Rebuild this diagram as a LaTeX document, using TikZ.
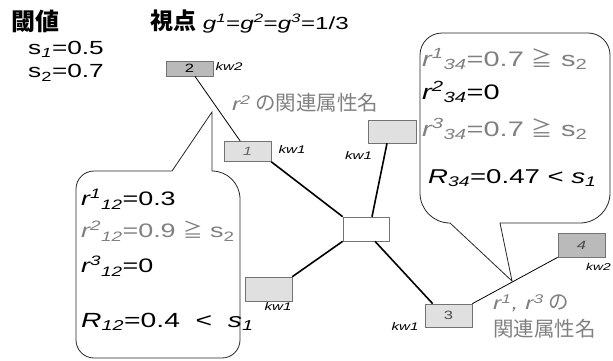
\documentclass[tikz,border=0pt]{standalone}
\usepackage{fontspec}
\usetikzlibrary{calc}
\setmainfont{Liberation Sans}[FakeStretch=1.38]
\newfontfamily\jp{Noto Sans CJK JP}
\definecolor{gtxt}{gray}{0.5}
\newcommand\upi[1]{\textsuperscript{\itshape #1}}
\newcommand\dni[1]{\textsubscript{\itshape #1}}
\newcommand\dnr[1]{\textsubscript{#1}}
\newcommand\geqj{{\jp ≧}}
\begin{document}
\begin{tikzpicture}[x=1pt,y=1pt,
  kwbox/.style={draw=black!55, line width=0.6pt, minimum width=47pt, inner sep=0pt, font=\fontsize{12}{13}\selectfont},
  darkbox/.style={kwbox, fill=black!27},
  lightbox/.style={kwbox, fill=black!12},
  kwlab/.style={font=\fontsize{11}{12}\selectfont\itshape, inner sep=0pt},
  txt/.style={anchor=west, inner sep=0pt, font=\fontsize{19}{21}\selectfont},
  ctxt/.style={anchor=west, inner sep=0pt, font=\fontsize{19.5}{22}\selectfont},
  cctxt/.style={anchor=west, inner sep=0pt, font=\fontsize{21}{23}\selectfont},
  rtxt/.style={anchor=west, inner sep=0pt, font=\fontsize{20.5}{22}\selectfont},
  jtxt/.style={anchor=west, inner sep=0pt, font=\jp\fontsize{20.5}{23}\selectfont, text=gtxt},
  thickedge/.style={line width=1.6pt},
  thinedge/.style={line width=0.8pt},
  callout/.style={line width=0.8pt, draw=black!85}
]
\useasboundingbox (0,0) rectangle (613,360);

% nodes
\node[darkbox, minimum height=15pt] (n2) at (189.5,291.5) {2};
\node[lightbox, minimum height=20pt, text=black!60] (n1) at (247.5,208.5) {\itshape 1};
\node[lightbox, minimum height=23pt, minimum width=48pt] (n5) at (392,228.5) {};
\node[kwbox, fill=white, minimum height=24pt, minimum width=46pt] (c) at (366,131) {};
\node[lightbox, minimum height=24pt] (n6) at (268.5,71) {};
\node[lightbox, minimum height=23pt, text=black!70] (n3) at (448.5,44.5) {3};
\node[darkbox, minimum height=24pt, text=black!70] (n4) at (581.5,115) {\itshape 4};

% kw labels
\node[kwlab] (k2a) at (229,293) {kw2};
\node[kwlab] (k1a) at (292,210) {kw1};
\node[kwlab] (k1b) at (358.5,204) {kw1};
\node[kwlab] (k1c) at (278,53) {kw1};
\node[kwlab] (k1d) at (405,33) {kw1};
\node[kwlab, anchor=west, font=\fontsize{10}{11}\selectfont\itshape] (k2b) at (586,93) {kw2};

% edges
\draw[thinedge] (n2) -- (n1);
\draw[thickedge] (n1.south east) -- (c.north west);
\draw[thickedge] ($(n5.south)+(-5,0)$) -- ($(c.north)+(6,0)$);
\draw[thickedge] (c.south west) -- (n6.north east);
\draw[thickedge] ($(c.south)+(9,0)$) -- ($(n3.north west)+(8,0)$);
\draw[thinedge] (n3.north east) -- (n4.south west);

% callouts
\draw[callout] (172,189) -- (212,248) -- (212,189)
  arc[start angle=90, end angle=0, radius=28] -- (240,20)
  arc[start angle=0, end angle=-90, radius=18] -- (94,2)
  arc[start angle=-90, end angle=-180, radius=18] -- (76,171)
  arc[start angle=180, end angle=90, radius=18] -- cycle;
\draw[callout] (500,137) -- (580,137)
  arc[start angle=-90, end angle=0, radius=30] -- (610,305)
  arc[start angle=0, end angle=90, radius=22] -- (442,327)
  arc[start angle=90, end angle=180, radius=22] -- (420,167)
  arc[start angle=180, end angle=270, radius=30] -- (512,79) -- cycle;

% header texts
\node[anchor=west, inner sep=0pt, font=\jp\bfseries\fontsize{24}{26}\selectfont] (t1) at (11,339) {閾値};
\node[anchor=west, inner sep=0pt, font=\fontsize{17.5}{20}\selectfont] (t2) at (150,339)
  {{\jp\bfseries\fontsize{23}{25}\selectfont 視点} {\itshape g}\upi{1}={\itshape g}\upi{2}={\itshape g}\upi{3}=1/3};
\node[txt] (s1) at (28,311) {s\dni{1}=0.5};
\node[txt] (s2) at (28,287) {s\dnr{2}=0.7};

% relation labels
\node[jtxt] (rl2) at (232,257) {{\rmfamily\itshape\fontsize{18}{20}\selectfont r\upi{2}} の関連属性名};
\node[jtxt] (rl13) at (493,57) {{\rmfamily\itshape\fontsize{18}{20}\selectfont r\upi{1}, r\upi{3}} の};
\node[jtxt] (rl13b) at (493,31) {関連属性名};

% left callout text
\node[ctxt] (a1) at (81,161) {{\itshape r}\upi{1}\dni{12}=0.3};
\node[ctxt, text=gtxt] (a2) at (81,129) {{\itshape r}\upi{2}\dni{12}=0.9 \geqj{} s\dnr{2}};
\node[ctxt] (a3) at (81,94) {{\itshape r}\upi{3}\dni{12}=0};
\node[rtxt] (a4) at (81,38) {{\itshape R}\dni{12}=0.4 \ < \ {\itshape s}\dni{1}};

% right callout text
\node[cctxt, text=gtxt] (b1) at (422,301) {{\itshape r}\upi{1}\dni{34}=0.7 \geqj{} s\dnr{2}};
\node[cctxt] (b2) at (422,268) {{\itshape r}\upi{2}\dni{34}=0};
\node[cctxt, text=gtxt] (b3) at (422,231) {{\itshape r}\upi{3}\dni{34}=0.7 \geqj{} s\dnr{2}};
\node[rtxt, font=\fontsize{20}{22}\selectfont] (b4) at (428,182) {{\itshape R}\dni{34}=0.47 < {\itshape s}\dni{1}};
\end{tikzpicture}
\end{document}
